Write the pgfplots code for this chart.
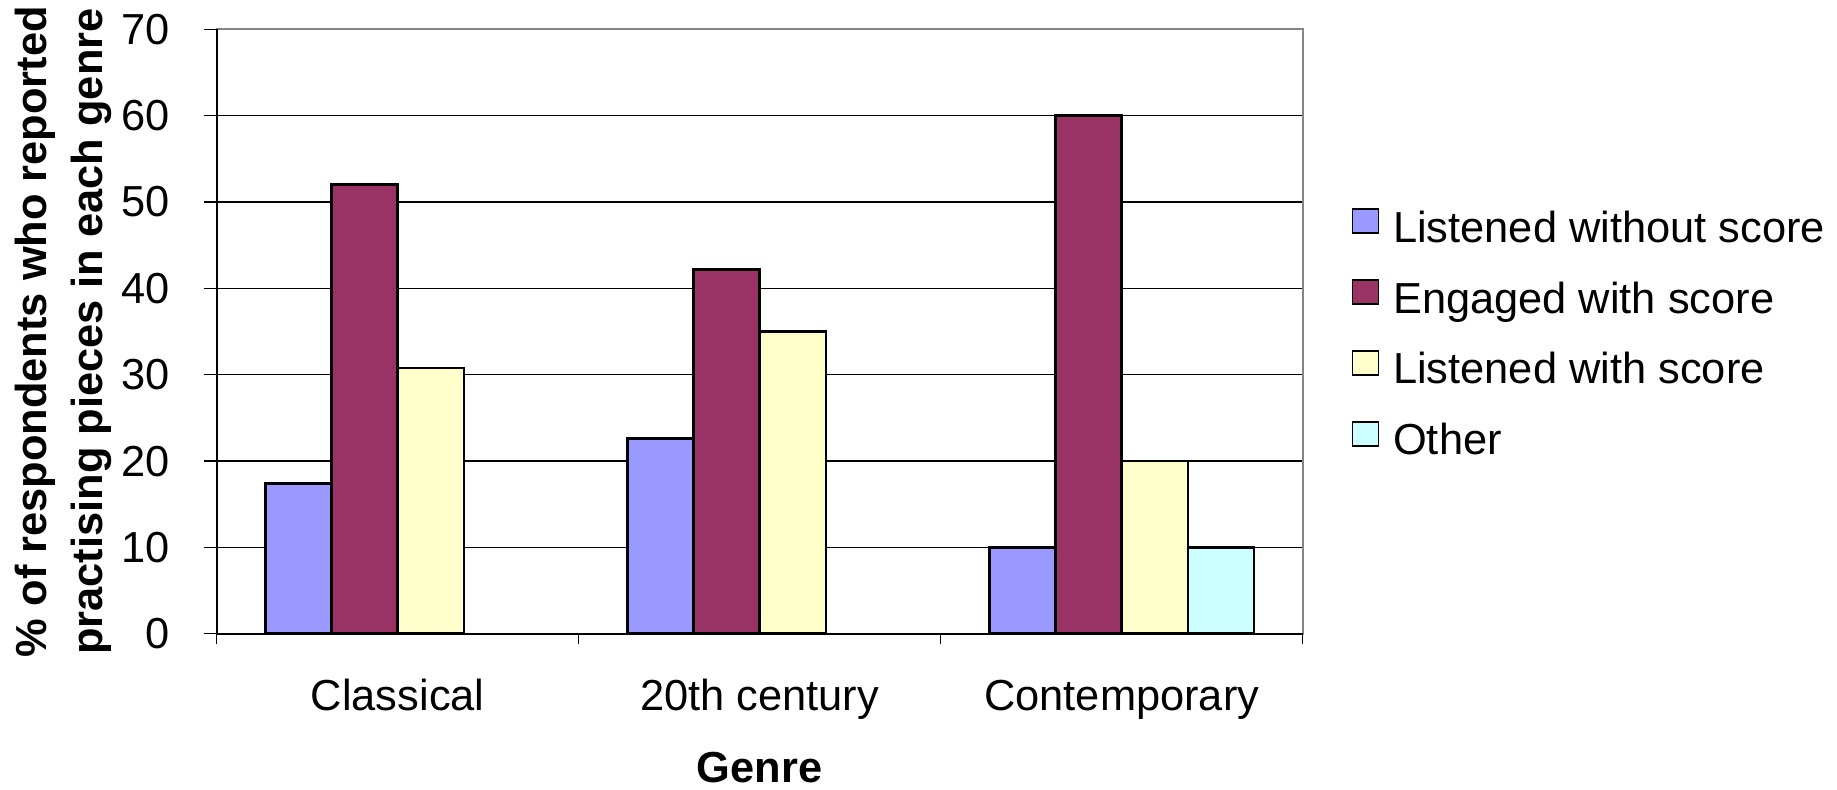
\documentclass[border=0pt]{standalone}
\usepackage{fontspec}
\setmainfont{Liberation Sans}
\usepackage{pgfplots}
\pgfplotsset{compat=1.18}
\definecolor{lwo}{HTML}{9999FF}
\definecolor{ews}{HTML}{993366}
\definecolor{lws}{HTML}{FFFFCC}
\definecolor{oth}{HTML}{CCFFFF}
\definecolor{frame}{HTML}{868686}

\pgfplotsset{
  sq legend/.style={legend image code/.code={%
    \draw[##1,draw=black,line width=0.9pt] (0pt,-1pt) rectangle (13pt,11pt);
    \path (19.7pt,0pt);}},
  barstyle/.style={draw=black, line width=1.3pt, fill=#1, sq legend},
}

\begin{document}
\fontsize{21.7}{21.5}\selectfont
\begin{tikzpicture}
\useasboundingbox (-108.35pt,-78.1pt) rectangle (810.15pt,316.9pt);
\begin{axis}[
  at={(0pt,0pt)}, anchor=south west,
  scale only axis, width=543pt, height=302.25pt,
  ybar, bar width=0.183,
  xmin=-0.5, xmax=2.5,
  ymin=0, ymax=70,
  xtick={0,1,2},
  xticklabels={Classical,20th century,Contemporary},
  minor xtick={-0.5,0.5,1.5,2.5},
  ytick={0,10,...,70},
  xtick pos=bottom, ytick pos=left,
  tick align=outside,
  major tick length=6.5pt, minor tick length=5.3pt,
  major x tick style={draw=none},
  minor x tick style={draw=black, line width=0.7pt},
  major y tick style={draw=black, line width=0.7pt},
  axis line style={draw=frame, line width=0.8pt},
  ymajorgrids, grid style={draw=black, line width=0.7pt},
  /pgf/number format/assume math mode=true,
  xticklabel style={anchor=base, inner sep=0pt, yshift=-32pt},
  yticklabel style={anchor=east, inner sep=0pt, xshift=-17pt},
  xlabel={\bfseries Genre},
  xlabel style={at={([yshift=-74.5pt]axis description cs:0.5,0)}, anchor=base, inner sep=0pt},
  ylabel={\bfseries \% of respondents who reported\\\bfseries practising pieces in each genre},
  ylabel style={at={([xshift=-76.5pt]axis description cs:0,0.5)}, anchor=center, align=center,
    inner sep=0pt, font=\fontsize{21.7}{28}\selectfont},
  legend style={draw=none, fill=none, at={(1.045,0.704)}, anchor=north west,
    inner sep=0pt, outer sep=0pt, row sep=13.5pt,
    nodes={inner sep=0pt, text height=16pt, text depth=5pt}},
  legend cell align=left,
  after end axis/.code={
    \draw[black, line width=0.9pt] (rel axis cs:0,1) -- (rel axis cs:0,0) -- (rel axis cs:1,0);
  },
]
% Listened without score
\addplot[barstyle=lwo, bar shift=-0.2745] coordinates {(0,17.4) (1,22.6) (2,10)};
% Engaged with score
\addplot[barstyle=ews, bar shift=-0.0915] coordinates {(0,52) (1,42.2) (2,60)};
% Listened with score
\addplot[barstyle=lws, bar shift=0.0915] coordinates {(0,30.8) (1,35) (2,20)};
% Other
\addplot[barstyle=oth, bar shift=0.2745] coordinates {(2,10)};
\legend{Listened without score, Engaged with score, Listened with score, Other}
\end{axis}
\end{tikzpicture}
\end{document}
